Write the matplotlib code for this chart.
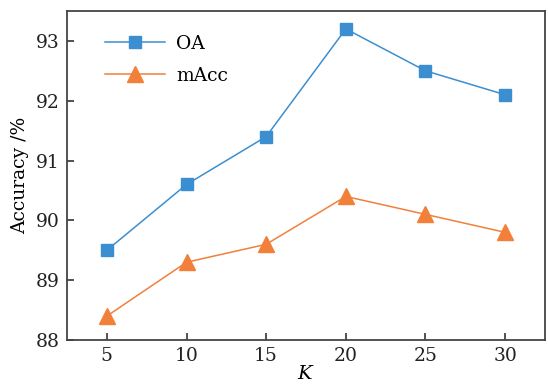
import matplotlib
matplotlib.use("Agg")
import matplotlib.pyplot as plt

k_values = [5, 10, 15, 20, 25, 30]
oa = [89.5, 90.6, 91.4, 93.2, 92.5, 92.1]
macc = [88.4, 89.3, 89.6, 90.4, 90.1, 89.8]
y_ticks = [88, 89, 90, 91, 92, 93]

plt.rcParams["font.family"] = ["DejaVu Serif"]
plt.rcParams["mathtext.fontset"] = "dejavuserif"

fig = plt.figure(figsize=(5.48, 3.87), dpi=100)
ax = fig.add_axes([0.1223, 0.1214, 0.8722, 0.8502])

ax.plot(k_values, oa, "-s", color="#3b8fd1", lw=1.1, ms=9, label="OA")
ax.plot(k_values, macc, "-^", color="#f2803a", lw=1.1, ms=11, label="mAcc")

ax.set_xlim(2.5, 32.5)
ax.set_ylim(88, 93.5)
ax.set_xticks(k_values)
ax.set_yticks(y_ticks)
ax.tick_params(direction="in", length=5, width=1.2, labelsize=13.5, colors="#333333",
               labelcolor="#222222", pad=5)
for spine in ax.spines.values():
    spine.set_linewidth(1.3)
    spine.set_color("#444444")

ax.set_xlabel("$K$", fontsize=14, labelpad=0)
ax.set_ylabel("Accuracy /%", fontsize=13.5, labelpad=5)
ax.legend(loc="upper left", frameon=False, fontsize=13.5, handlelength=3.2,
          borderaxespad=0.6, labelspacing=0.75, handletextpad=0.6,
          bbox_to_anchor=(0.04, 0.985))

fig.savefig("out.png", dpi=100)
